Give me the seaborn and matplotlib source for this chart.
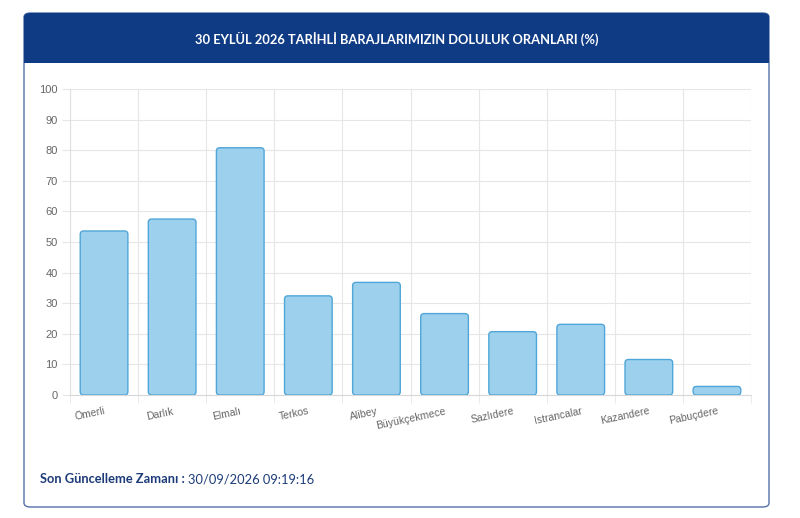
import matplotlib
matplotlib.use('Agg')
import pandas as pd
import matplotlib.pyplot as plt
import seaborn as sns
from matplotlib.patches import FancyBboxPatch, Rectangle

# dam fill ratios (%)
dams = ['Ömerli', 'Darlık', 'Elmalı', 'Terkos', 'Alibey', 'Büyükçekmece',
        'Sazlıdere', 'Istrancalar', 'Kazandere', 'Pabuçdere']
ratios = [53.6, 57.5, 80.8, 32.4, 36.8, 26.6, 20.7, 23.1, 11.6, 2.8]
y_ticks = [0, 10, 20, 30, 40, 50, 60, 70, 80, 90, 100]

title = '30 EYLÜL 2026 TARİHLİ BARAJLARIMIZIN DOLULUK ORANLARI (%)'
footer_label = 'Son Güncelleme Zamanı :'
footer_time = '30/09/2026 09:19:16'

df = pd.DataFrame({'Baraj': dams, 'Oran': ratios})

sns.set_style('white')
plt.rcParams['font.family'] = ['Lato', 'DejaVu Sans']

fig = plt.figure(figsize=(8, 5.18), dpi=100)
W, H = 800, 518

# card frame
card = FancyBboxPatch((24 / W, 1 - 507 / H), 745 / W, 494 / H,
                      boxstyle='round,pad=0,rounding_size=0.008',
                      transform=fig.transFigure, facecolor='white',
                      edgecolor='#5570ab', linewidth=1.0, zorder=-2)
fig.patches.append(card)
header = FancyBboxPatch((24 / W, 1 - 63 / H), 745 / W, 50 / H,
                        boxstyle='round,pad=0,rounding_size=0.008',
                        transform=fig.transFigure, facecolor='#0f3b85',
                        edgecolor='none', zorder=-1)
fig.patches.append(header)
fig.patches.append(Rectangle((24 / W, 1 - 63 / H), 745 / W, 20 / H,
                             transform=fig.transFigure, facecolor='#0f3b85',
                             edgecolor='none', zorder=-1))
fig.text(397 / W, 1 - 39 / H, title, color='white', fontsize=9.3,
         fontweight='bold', ha='center', va='center', zorder=2)

ax = fig.add_axes([70 / W, 1 - 395 / H, 681 / W, 306 / H])
ax.set_zorder(3)
ax.patch.set_alpha(0)
sns.barplot(data=df, x='Baraj', y='Oran', ax=ax, color='#9dd0ec',
            width=0.7, edgecolor='#4fa6d8', linewidth=1.0, saturation=1)

# give the seaborn bars slightly rounded corners
for bar in list(ax.patches):
    rounded = FancyBboxPatch((bar.get_x(), bar.get_y()), bar.get_width(),
                             bar.get_height(),
                             boxstyle='round,pad=0,rounding_size=0.05',
                             mutation_aspect=22,
                             facecolor=bar.get_facecolor(),
                             edgecolor=bar.get_edgecolor(),
                             linewidth=bar.get_linewidth(), zorder=bar.get_zorder())
    bar.set_visible(False)
    ax.add_patch(rounded)

ax.set_ylim(0, 100)
ax.set_yticks(y_ticks)
ax.set_xlim(-0.5, len(dams) - 0.5)
ax.set_xlabel('')
ax.set_ylabel('')
ax.set_xticks([i + 0.5 for i in range(-1, len(dams))], minor=True)
ax.grid(True, axis='y', color='#e6e6e6', linewidth=0.8)
ax.grid(True, axis='x', which='minor', color='#e6e6e6', linewidth=0.8)
ax.set_axisbelow(True)
for side in ['top', 'right']:
    ax.spines[side].set_visible(False)
ax.spines['left'].set_color('#e0e0e0')
ax.spines['bottom'].set_color('#d8d8d8')
ax.tick_params(axis='y', labelsize=8, labelcolor='#666666', length=6,
               color='#e6e6e6', pad=3, left=True)
ax.tick_params(axis='x', which='major', length=0, labelsize=7.5,
               labelcolor='#666666', pad=8)
ax.tick_params(axis='x', which='minor', length=6, color='#e6e6e6', bottom=True)
plt.setp(ax.get_xticklabels(), rotation=12, ha='right', rotation_mode='anchor')
for lbl in ax.get_yticklabels():
    lbl.set_family(['Liberation Sans', 'DejaVu Sans'])
for lbl in ax.get_xticklabels():
    lbl.set_family(['Liberation Sans', 'DejaVu Sans'])

t = fig.text(40 / W, 1 - 479 / H, footer_label + ' ', color='#1d3b78',
             fontsize=9.3, fontweight='bold', ha='left', va='center')
fig.canvas.draw()
bb = t.get_window_extent()
fig.text(bb.x1 / W, 1 - 479 / H, footer_time, color='#1d3b78',
         fontsize=9.3, ha='left', va='center')

fig.savefig('out.png', dpi=100)
